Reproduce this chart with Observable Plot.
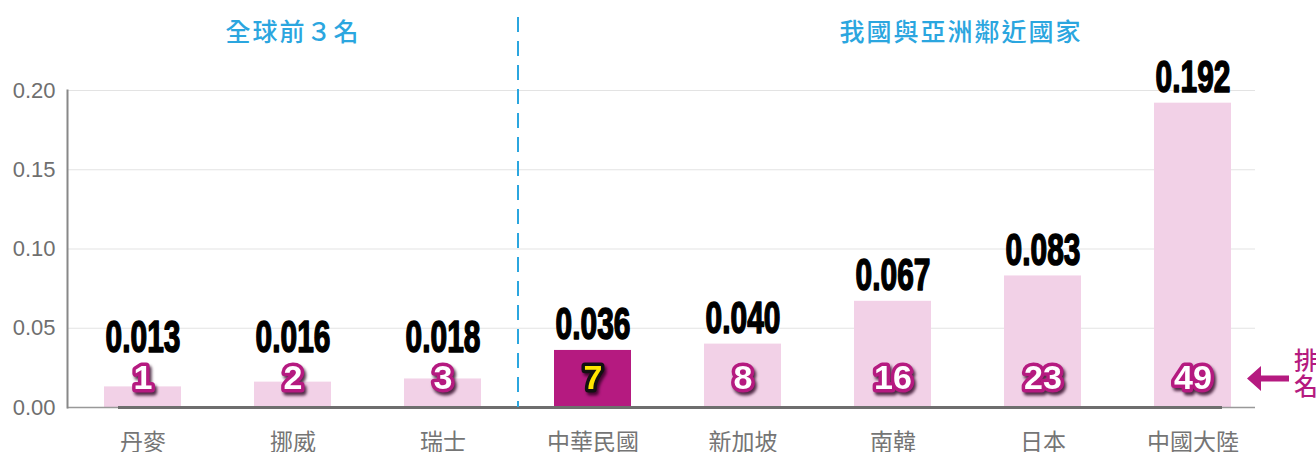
<!DOCTYPE html>
<html>
<head>
<meta charset="utf-8">
<script src="https://cdn.jsdelivr.net/npm/d3@7"></script>
<script src="https://cdn.jsdelivr.net/npm/@observablehq/plot@0.6"></script>
<style>
  html, body { margin: 0; padding: 0; background: #fff; }
  .rank-label { filter: drop-shadow(2px 3px 1.5px rgba(40,0,30,0.8)); }
  .header-label { letter-spacing: 2px; }
</style>
</head>
<body>
<div id="chart"></div>
<script>
// ---- data ----
const countries = ["丹麥", "挪威", "瑞士", "中華民國", "新加坡", "南韓", "日本", "中國大陸"];
const values = [0.013, 0.016, 0.018, 0.036, 0.040, 0.067, 0.083, 0.192];
const ranks = [1, 2, 3, 7, 8, 16, 23, 49];
const highlight = "中華民國";
const yTicks = [0, 0.05, 0.10, 0.15, 0.20];
const groupLabels = ["全球前３名", "我國與亞洲鄰近國家"];
const rankLabel = "排\n名";

const data = countries.map((c, i) => ({country: c, value: values[i], rank: ranks[i]}));

const pink = "#f2d1e7";
const magenta = "#b51a80";
const blue = "#2ba6df";
const last = countries[countries.length - 1];
const cjk = "'Noto Sans CJK TC', sans-serif";

// custom arrow symbol (points left)
const arrowSymbol = {
  draw(ctx) {
    ctx.moveTo(-21, 0);
    ctx.lineTo(-7, -12.5);
    ctx.lineTo(-7, -3);
    ctx.lineTo(21, -3);
    ctx.lineTo(21, 3);
    ctx.lineTo(-7, 3);
    ctx.lineTo(-7, 12.5);
    ctx.closePath();
  }
};

const chart = Plot.plot({
  width: 1316,
  height: 452,
  marginLeft: 67,
  marginRight: 49,
  marginTop: 90,
  marginBottom: 45,
  style: {fontFamily: "'Liberation Sans', 'Noto Sans CJK TC', sans-serif", background: "#fff", overflow: "visible"},
  x: {domain: countries, paddingInner: 0.49, paddingOuter: 0.245, label: null},
  y: {domain: [0, 0.2], label: null},
  marks: [
    Plot.gridY(yTicks, {stroke: "#e3e3e3", strokeOpacity: 1, insetRight: 12}),
    Plot.barY(data, {x: "country", y: "value", fill: d => d.country === highlight ? magenta : pink}),
    Plot.ruleY([0], {stroke: "#999", strokeWidth: 1.5, insetRight: 12}),
    Plot.ruleY([0], {stroke: "#6e6e6e", strokeWidth: 3, insetLeft: 51, insetRight: 45}),
    Plot.frame({anchor: "left", stroke: "#888", strokeWidth: 2}),
    Plot.axisY({ticks: yTicks, tickSize: 0, tickPadding: 12, fontSize: 22, fill: "#6f6f6f", tickFormat: d3.format(".2f"), label: null}),
    Plot.axisX({tickSize: 0, tickPadding: 26, fontSize: 23, fill: "#757575", fontFamily: cjk, label: null}),
    // divider
    Plot.ruleX([countries[2]], {x: d => d, dx: 75, stroke: blue, strokeWidth: 2, strokeDasharray: "15,9", insetTop: -73}),
    // headers
    Plot.text([groupLabels[0]], {x: () => countries[1], text: d => d, frameAnchor: "top", lineAnchor: "middle", dy: -58, fontSize: 25, fill: blue, fontWeight: 500, fontFamily: cjk, className: "header-label"}),
    Plot.text([groupLabels[1]], {x: () => countries[5], text: d => d, frameAnchor: "top", lineAnchor: "middle", dy: -58, dx: 68, fontSize: 25, fill: blue, fontWeight: 500, fontFamily: cjk, className: "header-label"}),
    // value labels
    Plot.text(data, {x: "country", y: d => Math.max(d.value, 0.028), text: d => d3.format(".3f")(d.value), lineAnchor: "bottom", dy: -11, fontSize: 44, fontWeight: "bold", fill: "#000", stroke: "#000", strokeWidth: 1.6, strokeLinejoin: "round", className: "value-label"}),
    // rank labels
    Plot.text(data, {x: "country", frameAnchor: "bottom", lineAnchor: "middle", dy: -29, text: d => String(d.rank), fontSize: 34, fontWeight: "bold",
      fill: d => d.country === highlight ? "#ffe600" : "#fff",
      stroke: d => d.country === highlight ? "#111" : magenta,
      strokeWidth: 7, paintOrder: "stroke", strokeLinejoin: "round", className: "rank-label"}),
    // arrow + 排名
    Plot.dot([last], {x: d => d, frameAnchor: "bottom", dy: -29, dx: 75, symbol: arrowSymbol, fill: magenta, stroke: "none", r: 10}),
    Plot.text([rankLabel], {x: () => last, text: d => d, frameAnchor: "bottom", lineAnchor: "middle", dy: -34, dx: 113, fontSize: 24, lineHeight: 1.08, fill: magenta, fontWeight: 500, fontFamily: cjk})
  ]
});

document.getElementById("chart").appendChild(chart);

// narrow the value labels horizontally
d3.select(chart).selectAll('.value-label text').each(function() {
  const t = this.getAttribute("transform");
  if (t) {
    this.setAttribute("transform", t + " scale(0.68,1)");
  } else {
    const x = this.getAttribute("x") || 0, y = this.getAttribute("y") || 0;
    this.removeAttribute("x"); this.removeAttribute("y");
    this.setAttribute("transform", `translate(${x},${y}) scale(0.68,1)`);
  }
});
</script>
</body>
</html>
